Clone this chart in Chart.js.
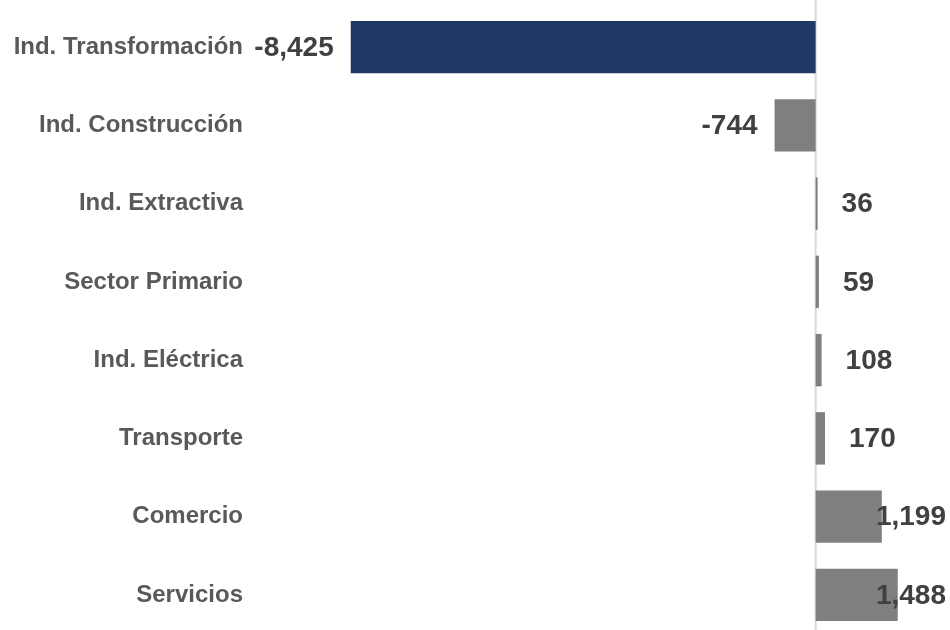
<!DOCTYPE html>
<html>
<head>
<meta charset="utf-8">
<script src="https://cdn.jsdelivr.net/npm/chart.js@4/dist/chart.umd.min.js"></script>
<style>
  html, body { margin: 0; padding: 0; background: #fff; overflow: hidden; }
  #wrap { width: 950px; height: 634px; }
</style>
</head>
<body>
<div id="wrap"><canvas id="chart"></canvas></div>
<script>
// Data
const categories = ["Ind. Transformación", "Ind. Construcción", "Ind. Extractiva", "Sector Primario",
                    "Ind. Eléctrica", "Transporte", "Comercio", "Servicios"];
const values = [-8425, -744, 36, 59, 108, 170, 1199, 1488];
const barColors = ["#1f3864", "#7f7f7f", "#7f7f7f", "#7f7f7f", "#7f7f7f", "#7f7f7f", "#7f7f7f", "#7f7f7f"];

// zero line across the whole height
const zeroLine = {
    id: "zeroLine",
    beforeDatasetsDraw(chart) {
        const ctx = chart.ctx;
        const x = chart.scales.x.getPixelForValue(0);
        ctx.save();
        ctx.strokeStyle = "#d9d9d9";
        ctx.lineWidth = 2;
        ctx.beginPath();
        ctx.moveTo(x, 0);
        ctx.lineTo(x, chart.height);
        ctx.stroke();
        ctx.restore();
    }
};

// value labels
const valueLabels = {
    id: "valueLabels",
    afterDatasetsDraw(chart) {
        const ctx = chart.ctx;
        const meta = chart.getDatasetMeta(0);
        ctx.save();
        ctx.font = "bold 28px 'Liberation Sans', Arial, sans-serif";
        ctx.fillStyle = "#404040";
        ctx.textBaseline = "middle";
        meta.data.forEach((bar, i) => {
            const v = values[i];
            const txt = v.toLocaleString("en-US");
            const w = ctx.measureText(txt).width;
            let x;
            if (v < 0) {
                x = bar.x - 17 - w;
            } else {
                x = bar.x + 24;
                if (x + w > 946) x = 946 - w;
            }
            ctx.fillText(txt, x, bar.y + 1);
        });
        ctx.restore();
    }
};

new Chart(document.getElementById("chart"), {
    type: "bar",
    data: {
        labels: categories,
        datasets: [{
            data: values,
            backgroundColor: barColors,
            borderWidth: 0,
            barPercentage: 0.67,
            categoryPercentage: 1
        }]
    },
    options: {
        indexAxis: "y",
        responsive: true,
        maintainAspectRatio: false,
        animation: false,
        layout: { padding: { top: 8, right: 24, bottom: 0, left: 0 } },
        plugins: {
            legend: { display: false },
            tooltip: { enabled: false }
        },
        scales: {
            x: {
                display: false,
                min: -9000,
                max: 2000
            },
            y: {
                grid: { display: false, drawTicks: false },
                border: { display: false },
                ticks: {
                    color: "#595959",
                    padding: 76,
                    font: { family: "'Liberation Sans', Arial, sans-serif", size: 24, weight: "bold" }
                },
                afterFit(scale) {
                    scale.width = 319;
                    scale.paddingTop = 0;
                    scale.paddingBottom = 0;
                }
            }
        }
    },
    plugins: [zeroLine, valueLabels]
});
</script>
</body>
</html>
